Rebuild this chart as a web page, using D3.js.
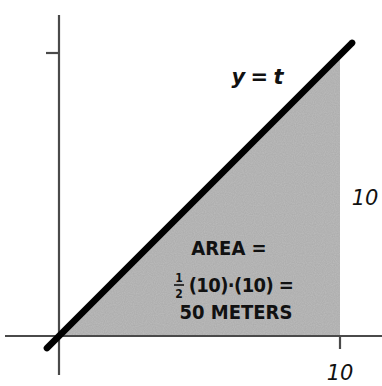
<!DOCTYPE html>
<html>
<head>
<meta charset="utf-8">
<script src="https://cdn.jsdelivr.net/npm/d3@7"></script>
<style>
  html, body { margin: 0; padding: 0; background: #fff; }
  svg { display: block; }
  text { font-family: "DejaVu Sans", sans-serif; fill: #111; }
  .note { font-family: "DejaVu Sans Condensed", "DejaVu Sans", sans-serif; font-weight: bold; }
</style>
</head>
<body>
<svg id="chart" width="382" height="386"></svg>
<script>
// Distance under the velocity curve y = t from t = 0 to t = 10
const lineT = [-0.43, 10.43];      // extent of the drawn line y = t
const areaT = [0, 10];             // shaded region under y = t
const xTicks = [10];
const yTicks = [10];
const tickLabels = ["10"];
const curveLabel = "y = t";
const areaLines = ["AREA =", "(10)·(10) =", "50 METERS"];

const svg = d3.select("#chart");
const x = d3.scaleLinear().domain([0, 10]).range([59, 340]);
const y = d3.scaleLinear().domain([0, 10]).range([336, 55]);

// subtle grain for the shaded region
const defs = svg.append("defs");
const f = defs.append("filter").attr("id", "grain").attr("x", 0).attr("y", 0).attr("width", 1).attr("height", 1);
f.append("feTurbulence").attr("type", "fractalNoise").attr("baseFrequency", 0.9).attr("numOctaves", 1).attr("seed", 3).attr("result", "n");
f.append("feColorMatrix").attr("in", "n").attr("type", "matrix")
  .attr("values", "0 0 0 0 0  0 0 0 0 0  0 0 0 0 0  0 0 0 0.22 0").attr("result", "a");
f.append("feComposite").attr("in", "a").attr("in2", "SourceGraphic").attr("operator", "in").attr("result", "g");
f.append("feMerge").call(m => { m.append("feMergeNode").attr("in", "SourceGraphic"); m.append("feMergeNode").attr("in", "g"); });

// shaded area
const area = d3.area().x(d => x(d)).y0(y(0)).y1(d => y(d));
svg.append("path").datum(areaT).attr("d", area)
  .attr("fill", "#bdbdbd").attr("filter", "url(#grain)");

// axes
const axisColor = "#4a4a4a";
svg.append("line").attr("x1", 5).attr("x2", 382).attr("y1", y(0)).attr("y2", y(0))
  .attr("stroke", axisColor).attr("stroke-width", 2.2);
svg.append("line").attr("x1", x(0)).attr("x2", x(0)).attr("y1", 15).attr("y2", 375)
  .attr("stroke", axisColor).attr("stroke-width", 2.2);

// ticks
svg.selectAll(".xt").data(xTicks).join("line")
  .attr("x1", d => x(d)).attr("x2", d => x(d)).attr("y1", y(0)).attr("y2", y(0) + 13)
  .attr("stroke", axisColor).attr("stroke-width", 2.2);
svg.selectAll(".yt").data(yTicks).join("line")
  .attr("x1", x(0) - 13).attr("x2", x(0)).attr("y1", d => y(d) - 2).attr("y2", d => y(d) - 2)
  .attr("stroke", axisColor).attr("stroke-width", 2.2);

// the line y = t
const line = d3.line().x(d => x(d)).y(d => y(d));
svg.append("path").datum(lineT).attr("d", line)
  .attr("stroke", "#000").attr("stroke-width", 6.5).attr("stroke-linecap", "round").attr("fill", "none");

// tick labels
svg.selectAll(".xl").data(xTicks).join("text")
  .attr("x", d => x(d)).attr("y", y(0) + 44).attr("text-anchor", "middle")
  .attr("font-size", 21).attr("font-style", "italic").text((d, i) => tickLabels[i]);
svg.selectAll(".yl").data(yTicks).join("text")
  .attr("x", 365).attr("y", y(5) + 9).attr("text-anchor", "middle")
  .attr("font-size", 21).attr("font-style", "italic").text((d, i) => tickLabels[i]);

// curve label
svg.append("text").attr("x", 257).attr("y", 84).attr("text-anchor", "middle")
  .attr("font-size", 21).attr("font-style", "italic").attr("font-weight", "bold")
  .attr("letter-spacing", -1).text(curveLabel);

// area annotation
const noteSize = 20;
svg.append("text").attr("class", "note").attr("x", 229).attr("y", 255).attr("text-anchor", "middle")
  .attr("font-size", noteSize).text(areaLines[0]);
svg.append("text").attr("class", "note").attr("x", 241).attr("y", 292).attr("text-anchor", "middle")
  .attr("font-size", noteSize).attr("letter-spacing", -0.6).text(areaLines[1]);
svg.append("text").attr("class", "note").attr("x", 236).attr("y", 319).attr("text-anchor", "middle")
  .attr("font-size", noteSize).text(areaLines[2]);

// one-half fraction
svg.append("text").attr("class", "note").attr("x", 179).attr("y", 282).attr("text-anchor", "middle")
  .attr("font-size", 12).text("1");
svg.append("text").attr("class", "note").attr("x", 179).attr("y", 298).attr("text-anchor", "middle")
  .attr("font-size", 12).text("2");
svg.append("line").attr("x1", 174).attr("x2", 184).attr("y1", 285).attr("y2", 285)
  .attr("stroke", "#111").attr("stroke-width", 1.6);
</script>
</body>
</html>
